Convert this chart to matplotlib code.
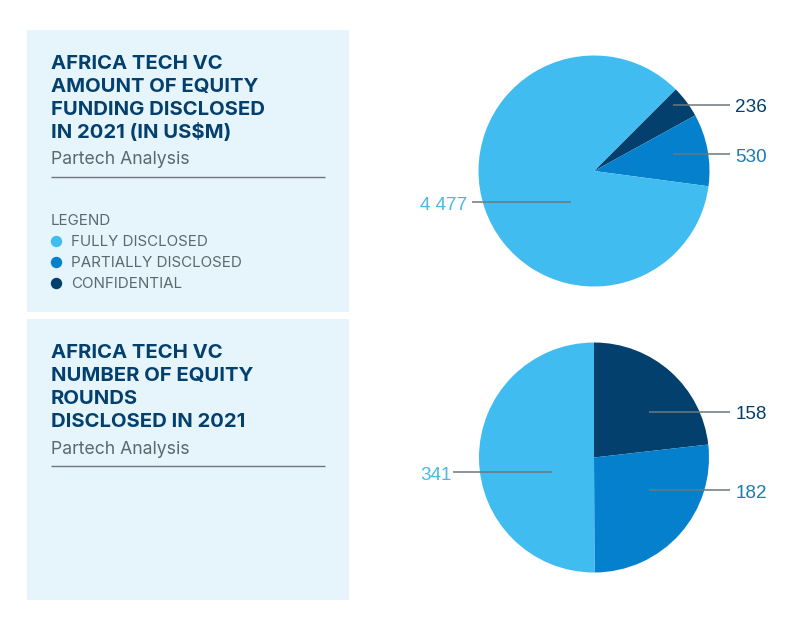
import matplotlib
matplotlib.use("Agg")
import matplotlib.pyplot as plt

W, H = 800, 631

LIGHT = "#41bcf1"
MID = "#0580cc"
DARK = "#03406d"
PANEL = "#e6f4fc"
GREY_TXT = "#5c6870"
LINE = "#6d777d"

categories = ["CONFIDENTIAL", "PARTIALLY DISCLOSED", "FULLY DISCLOSED"]
funding_values = [236, 530, 4477]
funding_labels = ["236", "530", "4 477"]
rounds_values = [158, 182, 341]
rounds_labels = ["158", "182", "341"]
legend_order = ["FULLY DISCLOSED", "PARTIALLY DISCLOSED", "CONFIDENTIAL"]
legend_colors = [LIGHT, MID, DARK]
slice_colors = [DARK, MID, LIGHT]
label_colors = [DARK, "#1a7cb4", "#4db8e8"]

title_top = ["AFRICA TECH VC", "AMOUNT OF EQUITY", "FUNDING DISCLOSED", "IN 2021 (IN US$M)"]
title_bottom = ["AFRICA TECH VC", "NUMBER OF EQUITY", "ROUNDS", "DISCLOSED IN 2021"]
source = "Partech Analysis"

plt.rcParams["font.family"] = ["Inter", "Open Sans", "DejaVu Sans"]

fig = plt.figure(figsize=(W / 100, H / 100), dpi=100, facecolor="white")

# whole-figure axes in pixel coords, y going down like the picture
bg = fig.add_axes([0, 0, 1, 1])
bg.set_xlim(0, W)
bg.set_ylim(H, 0)
bg.axis("off")


def panel(y0, y1):
    bg.add_patch(plt.Rectangle((27, y0), 322, y1 - y0, color=PANEL, lw=0))


def header(lines, ys, y_source, y_rule):
    for line, y in zip(lines, ys):
        bg.text(51, y, line, color=DARK, fontsize=14.6, fontweight="bold", va="baseline", ha="left")
    bg.text(51, y_source, source, color=GREY_TXT, fontsize=12.7, va="baseline", ha="left")
    bg.plot([51, 325], [y_rule, y_rule], color=LINE, lw=1, solid_capstyle="butt")


def draw_pie(values, cx, cy, r, start):
    ax = fig.add_axes([(cx - r) / W, 1 - (cy + r) / H, 2 * r / W, 2 * r / H])
    ax.pie(values, colors=slice_colors, startangle=start, counterclock=False, radius=1,
           wedgeprops={"linewidth": 0})
    ax.set_xlim(-1, 1)
    ax.set_ylim(-1, 1)
    ax.set_zorder(1)


def leader(x0, x1, y):
    over.plot([x0, x1], [y, y], color=LINE, lw=1.1, solid_capstyle="butt")


def value(x, y, txt, col, ha):
    over.text(x, y, txt, color=col, fontsize=13.6, family=["Liberation Sans", "DejaVu Sans"],
              va="baseline", ha=ha)


panel(30, 312)
panel(319, 600)

header(title_top, [69, 92, 115, 138], 164.5, 177)
header(title_bottom, [358, 381, 404, 427], 453.5, 466)

bg.text(51, 225, "LEGEND", color=GREY_TXT, fontsize=10.9, va="baseline", ha="left")
for name, col, y in zip(legend_order, legend_colors, [246, 267, 288]):
    bg.plot([56.3], [y - 5], "o", color=col, ms=8.2, mew=0)
    bg.text(71, y, name, color=GREY_TXT, fontsize=10.9, va="baseline", ha="left")

draw_pie(funding_values, 594, 171, 115.5, 45)
draw_pie(rounds_values, 594, 457.5, 115, 90)

# leader lines and value labels sit above the pies
over = fig.add_axes([0, 0, 1, 1], zorder=2)
over.set_xlim(0, W)
over.set_ylim(H, 0)
over.axis("off")
over.patch.set_alpha(0)

leader(673, 730, 105)
leader(673, 730, 154)
leader(472, 571, 202)
leader(649, 730, 412)
leader(649, 730, 490)
leader(453, 552, 472)

value(767, 112.5, funding_labels[0], label_colors[0], "right")
value(767, 161.5, funding_labels[1], label_colors[1], "right")
value(420, 210, funding_labels[2], label_colors[2], "left")
value(767, 419, rounds_labels[0], label_colors[0], "right")
value(767, 498, rounds_labels[1], label_colors[1], "right")
value(420, 480, rounds_labels[2], label_colors[2], "left")

fig.savefig("out.png", dpi=100, facecolor="white")
